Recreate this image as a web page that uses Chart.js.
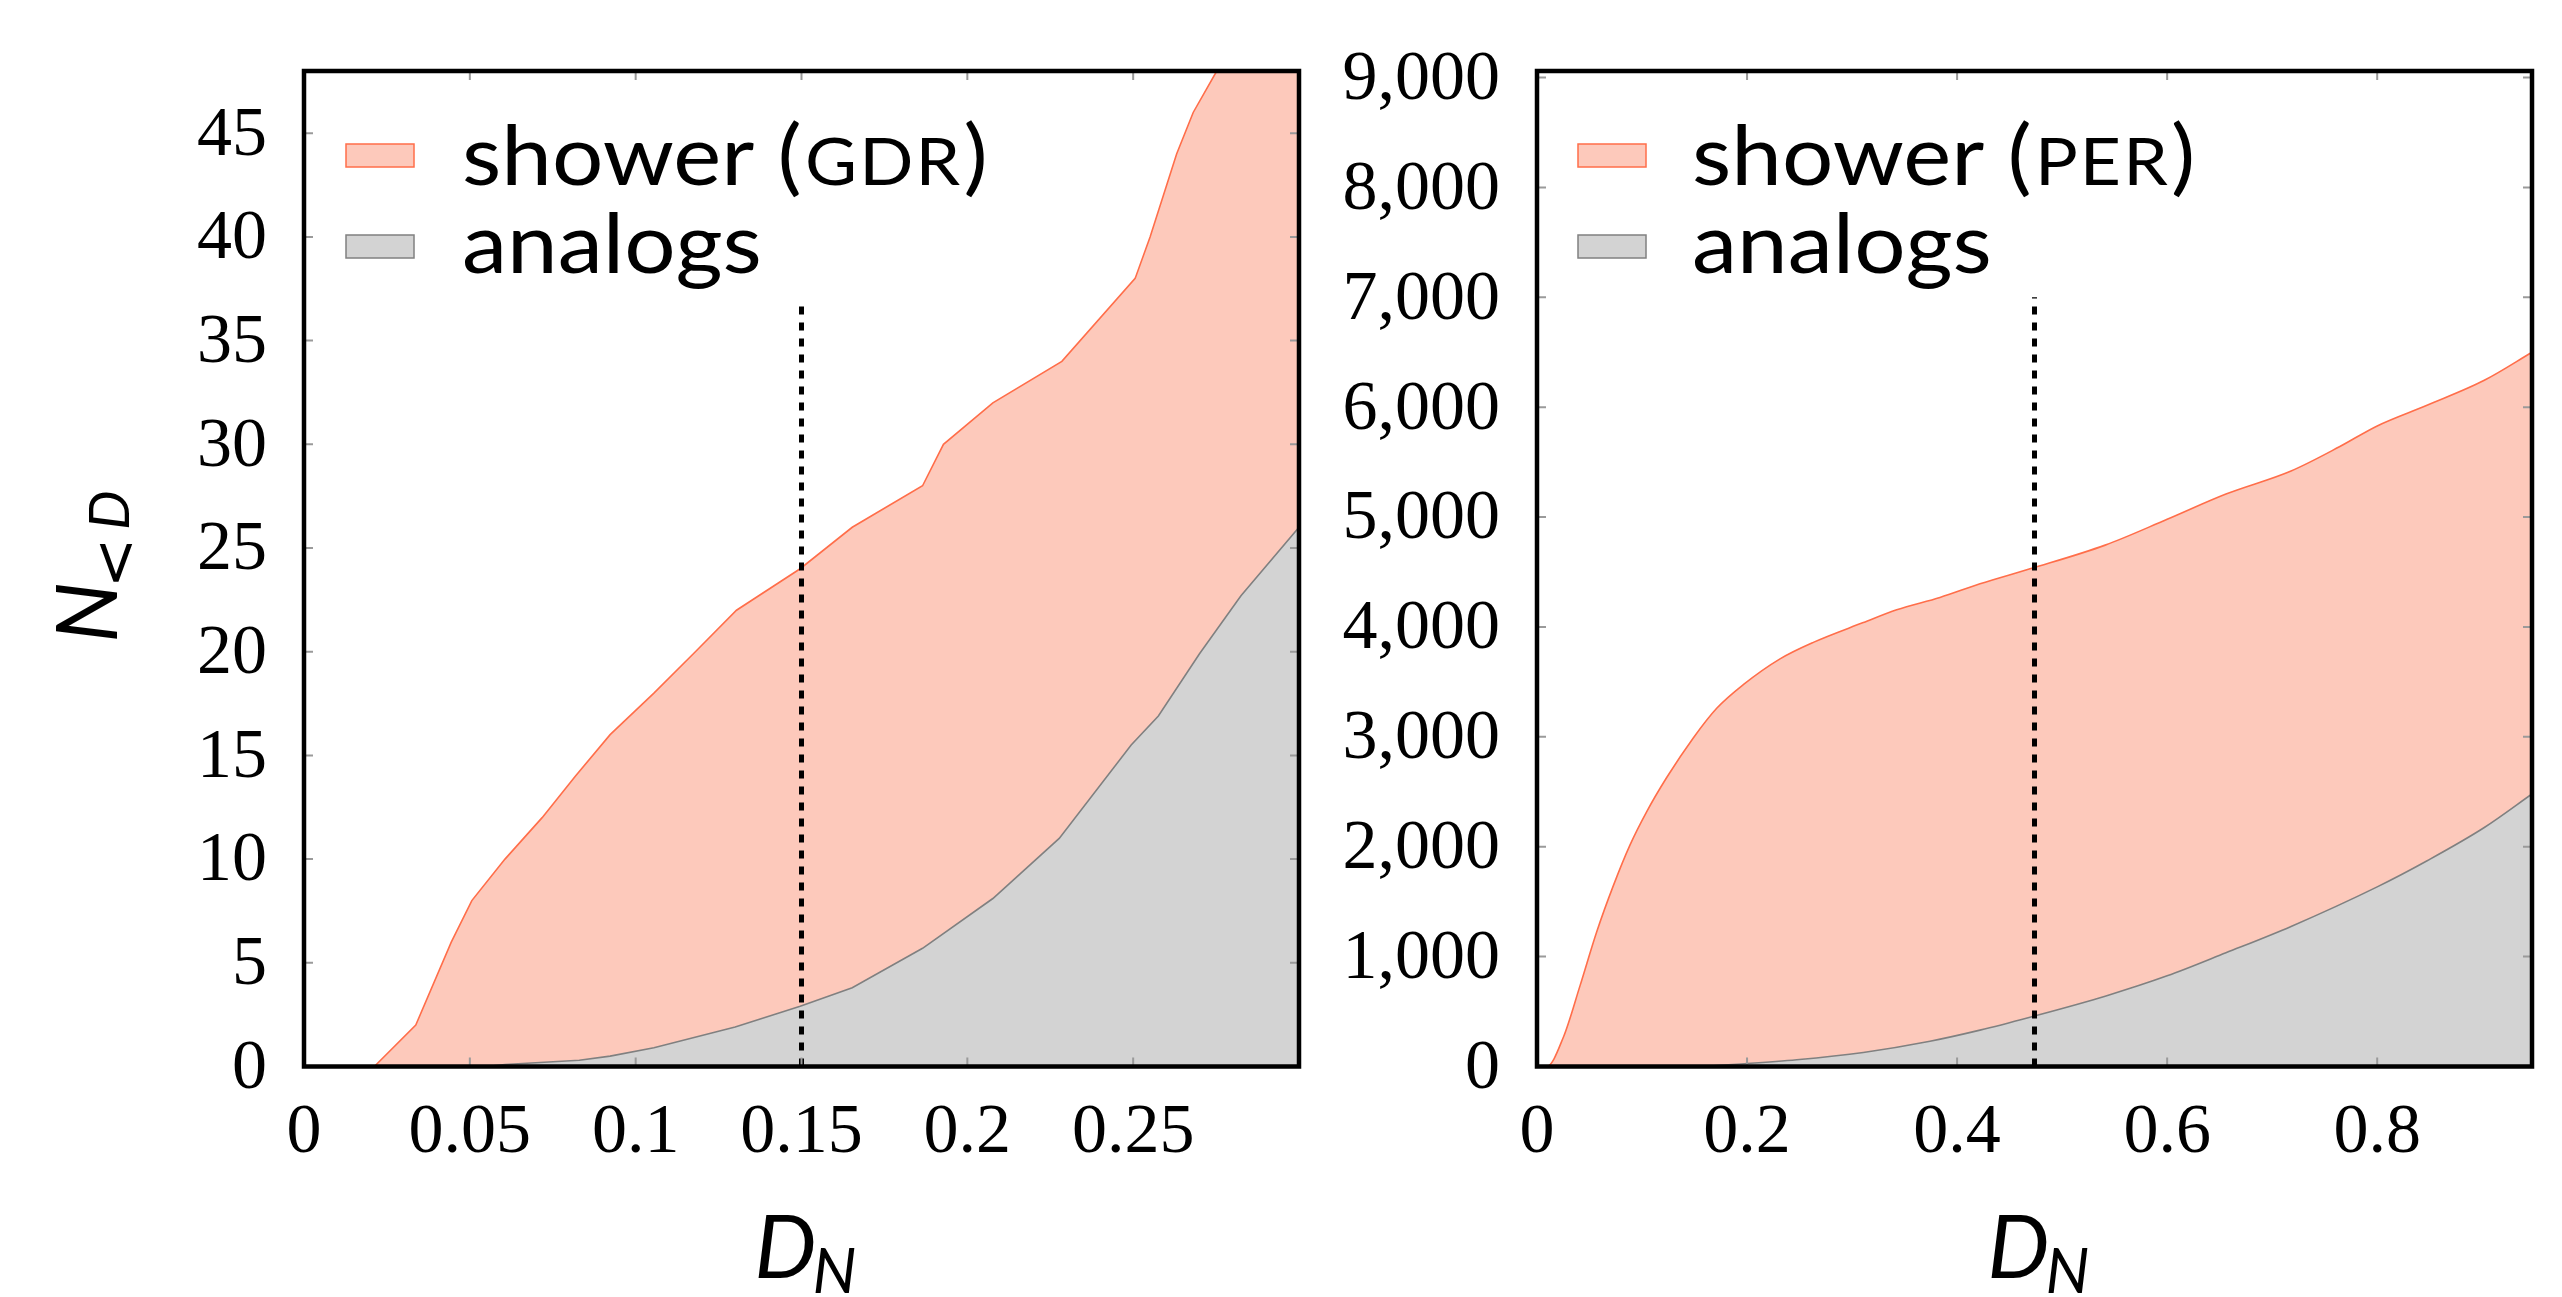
<!DOCTYPE html>
<html><head><meta charset="utf-8">
<script src="https://cdn.jsdelivr.net/npm/chart.js@4.4.1/dist/chart.umd.min.js"></script>
<style>
html,body{margin:0;padding:0;background:#fff;}
#wrap{position:relative;width:2562px;height:1297px;overflow:hidden;background:#fff;}
canvas{position:absolute;top:0;}
</style></head><body>
<div id="wrap">
<canvas id="c1" width="1330" height="1297" style="left:0"></canvas>
<canvas id="c2" width="1232" height="1297" style="left:1330px"></canvas>
</div>
<script>
// ---------- data: left panel (GDR) ----------
const gdrShowerX = [0, 0.0212, 0.0337, 0.0444, 0.0506, 0.0606, 0.0718, 0.0818, 0.0923, 0.1055, 0.118, 0.1304, 0.1496, 0.1653, 0.1865, 0.1928, 0.2077, 0.2285, 0.2506, 0.2551, 0.2631, 0.2681, 0.2752, 0.29, 0.3];
const gdrShowerY = [0, 0, 2, 6, 8, 10, 12, 14, 16, 18, 20, 22, 24, 26, 28, 30, 32, 34, 38, 40, 44, 46, 48, 52, 55];
const gdrAnalogX = [0, 0.055, 0.0606, 0.083, 0.0923, 0.1055, 0.13, 0.1496, 0.1653, 0.1865, 0.2077, 0.2277, 0.2494, 0.2576, 0.27, 0.2825, 0.3];
const gdrAnalogY = [0, 0, 0.1, 0.3, 0.5, 0.9, 1.9, 2.9, 3.8, 5.7, 8.1, 11, 15.5, 16.9, 19.9, 22.7, 26];
const gdrCutX = [0.15, 0.15];
const gdrCutY = [0, 37];
const gdrXTicks = [0, 0.05, 0.1, 0.15, 0.2, 0.25];
const gdrYTicks = [0, 5, 10, 15, 20, 25, 30, 35, 40, 45];

// ---------- data: right panel (PER) ----------
const perShowerX = [0, 0.0092, 0.025, 0.041, 0.0568, 0.0727, 0.0886, 0.1045, 0.1235, 0.1488, 0.1711, 0.1964, 0.2314, 0.2631, 0.3107, 0.3425, 0.3837, 0.4218, 0.4694, 0.541, 0.6, 0.656, 0.718, 0.764, 0.8, 0.848, 0.902, 0.9474];
const perShowerY = [0, 0, 264, 736, 1224, 1646, 2017, 2320, 2630, 2990, 3260, 3475, 3710, 3860, 4040, 4157, 4269, 4393, 4529, 4745, 4980, 5210, 5420, 5640, 5830, 6020, 6245, 6500];
const perAnalogX = [0, 0.15, 0.1997, 0.2473, 0.3107, 0.3742, 0.4218, 0.4694, 0.541, 0.6, 0.656, 0.718, 0.8, 0.848, 0.902, 0.9474];
const perAnalogY = [0, 0, 27, 61, 128, 230, 331, 449, 640, 825, 1035, 1275, 1635, 1875, 2175, 2480];
const perCutX = [0.4737, 0.4737];
const perCutY = [0, 7000];
const perXTicks = [0, 0.2, 0.4, 0.6, 0.8];
const perYTicks = [0, 1000, 2000, 3000, 4000, 5000, 6000, 7000, 8000, 9000];

const labelsLeft = ['shower (GDR)', 'analogs'];
const labelsRight = ['shower (PER)', 'analogs'];

// ---------- styles ----------
const SHOWER_FILL = '#FDC9BB', SHOWER_LINE = '#FF6E4A';
const ANALOG_FILL = '#D3D3D3', ANALOG_LINE = '#808080';
const TICK_FONT = {family: "'Liberation Serif', 'DejaVu Serif', serif", size: 70};
const SANS = "Lato, 'Open Sans', sans-serif";

const zip = (xs, ys) => xs.map((x, i) => ({x: x, y: ys[i]}));

function decor(opts) {
  return {
    id: 'decor',
    afterDraw(chart) {
      const ctx = chart.ctx, ca = chart.chartArea;
      const xs = chart.scales.x, ys = chart.scales.y;
      ctx.save();
      // inner tick marks
      ctx.strokeStyle = '#9a9a9a'; ctx.lineWidth = 2;
      xs.ticks.forEach(t => {
        const p = xs.getPixelForValue(t.value);
        if (p <= ca.left + 3 || p >= ca.right - 3) return;
        ctx.beginPath(); ctx.moveTo(p, ca.bottom); ctx.lineTo(p, ca.bottom - 9);
        ctx.moveTo(p, ca.top); ctx.lineTo(p, ca.top + 9); ctx.stroke();
      });
      ys.ticks.forEach(t => {
        const p = ys.getPixelForValue(t.value);
        if (p >= ca.bottom - 3 || p <= ca.top + 3) return;
        ctx.beginPath(); ctx.moveTo(ca.left, p); ctx.lineTo(ca.left + 9, p);
        ctx.moveTo(ca.right, p); ctx.lineTo(ca.right - 9, p); ctx.stroke();
      });
      // frame
      ctx.strokeStyle = '#000'; ctx.lineWidth = 4.5;
      ctx.strokeRect(ca.left, ca.top, ca.right - ca.left, ca.bottom - ca.top);
      // legend
      const ds = chart.data.datasets;
      const items = [
        {label: ds[0].label, fill: ds[0].backgroundColor, line: ds[0].borderColor},
        {label: ds[1].label, fill: ds[1].backgroundColor, line: ds[1].borderColor}
      ];
      items.forEach((it, i) => {
        const bx = ca.left + opts.legBox, by = ca.top + 73 + i * 91;
        ctx.fillStyle = it.fill; ctx.fillRect(bx, by, 68, 23);
        ctx.strokeStyle = it.line; ctx.lineWidth = 1.5; ctx.strokeRect(bx, by, 68, 23);
        ctx.fillStyle = '#000'; ctx.textAlign = 'left'; ctx.textBaseline = 'alphabetic';
        const base = ca.top + 114 + i * 88;
        ctx.save();
        ctx.translate(ca.left + opts.legText, base); ctx.scale(1.08, 1);
        let x = 0;
        const m = it.label.match(/^(.*\()(.*)(\))$/);
        if (m) {
          ctx.font = '84px ' + SANS; ctx.fillText(m[1], x, 0); x += ctx.measureText(m[1]).width + 3;
          ctx.font = '66px ' + SANS; ctx.letterSpacing = '2px';
          ctx.fillText(m[2], x, 0); x += ctx.measureText(m[2]).width + 1;
          ctx.letterSpacing = '0px';
          ctx.font = '84px ' + SANS; ctx.fillText(m[3], x, 0);
        } else {
          ctx.font = '84px ' + SANS; ctx.fillText(it.label, x, 0);
        }
        ctx.restore();
      });
      // x axis title D_N
      ctx.fillStyle = '#000'; ctx.textAlign = 'left'; ctx.textBaseline = 'alphabetic';
      ctx.font = 'italic 88px ' + SANS; const wD = ctx.measureText('D').width;
      ctx.font = 'italic 62px ' + SANS; const wN = ctx.measureText('N').width;
      const cx = (ca.left + ca.right) / 2 + 4;
      const x0 = cx - (wD + wN - 4) / 2;
      ctx.font = 'italic 88px ' + SANS; ctx.fillText('D', x0, 1278);
      ctx.font = 'italic 62px ' + SANS; ctx.fillText('N', x0 + wD - 4, 1293);
      // y axis title N_<D
      if (opts.yTitle) {
        ctx.save(); ctx.translate(117, 643); ctx.rotate(-Math.PI / 2);
        ctx.font = 'italic 86px ' + SANS; ctx.fillText('N', 0, 0);
        ctx.font = "60px 'DejaVu Sans', sans-serif"; ctx.fillText('<', 55, 18);
        ctx.font = 'italic 56px ' + SANS; ctx.fillText('D', 113, 12);
        ctx.restore();
      }
      ctx.restore();
    }
  };
}

function makeChart(id, d) {
  return new Chart(document.getElementById(id), {
    type: 'line',
    data: {
      datasets: [
        {label: d.labels[0], data: zip(d.sx, d.sy), order: 2, fill: 'origin',
         backgroundColor: SHOWER_FILL, borderColor: SHOWER_LINE, borderWidth: 1.6,
         pointRadius: 0, tension: 0, cubicInterpolationMode: d.smooth ? 'monotone' : 'default', clip: 0},
        {label: d.labels[1], data: zip(d.ax, d.ay), order: 1, fill: 'origin',
         backgroundColor: ANALOG_FILL, borderColor: ANALOG_LINE, borderWidth: 1.6,
         pointRadius: 0, tension: 0, cubicInterpolationMode: d.smooth ? 'monotone' : 'default', clip: 0},
        {label: 'cut', data: zip(d.cx, d.cy), order: 0, fill: false,
         borderColor: '#000', borderWidth: 5, borderDash: [8, 8], pointRadius: 0, clip: 0}
      ]
    },
    options: {
      responsive: false, animation: false,
      layout: {padding: {top: 71, right: d.padRight, left: 0, bottom: 0}},
      plugins: {legend: {display: false}, tooltip: {enabled: false}},
      scales: {
        x: {type: 'linear', min: 0, max: d.xmax,
            grid: {display: false, drawTicks: false}, border: {display: false},
            afterBuildTicks: s => { s.ticks = d.xt.map(v => ({value: v})); },
            afterFit: s => { s.height = 230.5; },
            ticks: {font: TICK_FONT, color: '#000', padding: 25, maxRotation: 0, autoSkip: false,
                    callback: v => String(+v.toFixed(2))}},
        y: {type: 'linear', min: 0, max: d.ymax,
            grid: {display: false, drawTicks: false}, border: {display: false},
            afterBuildTicks: s => { s.ticks = d.yt.map(v => ({value: v})); },
            afterFit: s => { s.width = d.yWidth; s.paddingTop = 0; s.paddingBottom = 0; },
            ticks: {font: TICK_FONT, color: '#000', padding: 37, labelOffset: 3, autoSkip: false,
                    callback: v => v.toLocaleString('en-US')}}
      }
    },
    plugins: [decor({legBox: d.legBox, legText: d.legText, yTitle: d.yTitle})]
  });
}

makeChart('c1', {labels: labelsLeft, sx: gdrShowerX, sy: gdrShowerY, ax: gdrAnalogX, ay: gdrAnalogY,
  cx: gdrCutX, cy: gdrCutY, xt: gdrXTicks, yt: gdrYTicks, xmax: 0.3, ymax: 48,
  yWidth: 304, padRight: 31, legBox: 42, legText: 158, yTitle: true, smooth: false});
makeChart('c2', {labels: labelsRight, sx: perShowerX, sy: perShowerY, ax: perAnalogX, ay: perAnalogY,
  cx: perCutX, cy: perCutY, xt: perXTicks, yt: perYTicks, xmax: 0.9474, ymax: 9060,
  yWidth: 207, padRight: 30, legBox: 41, legText: 155, yTitle: false, smooth: true});
</script>
</body></html>
